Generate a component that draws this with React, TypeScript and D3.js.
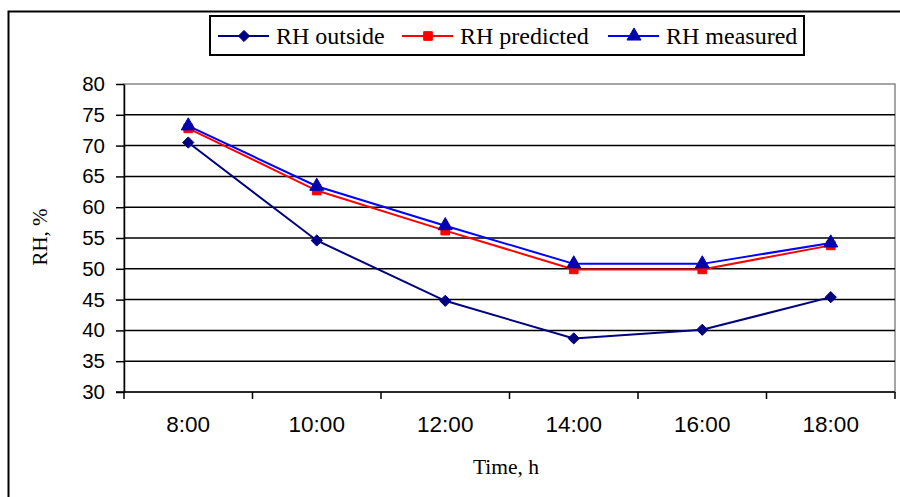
import { useRef, useEffect } from 'react';
import * as d3 from 'd3';

const times = ['8:00', '10:00', '12:00', '14:00', '16:00', '18:00'];
const rhOutside = [70.5, 54.6, 44.8, 38.7, 40.1, 45.4];
const rhPredicted = [72.8, 62.7, 56.2, 49.9, 49.9, 53.8];
const rhMeasured = [73.2, 63.4, 57.0, 50.8, 50.8, 54.2];
const yTicks = [30, 35, 40, 45, 50, 55, 60, 65, 70, 75, 80];

const seriesList = [
  { name: 'RH outside', values: rhOutside, line: '#000080', fill: '#000080', marker: 'diamond' },
  { name: 'RH predicted', values: rhPredicted, line: '#FF0000', fill: '#FF0000', marker: 'square' },
  { name: 'RH measured', values: rhMeasured, line: '#0000FF', fill: '#0000B0', marker: 'triangle' },
];

const W = 900;
const H = 497;

function markerPath(type: string) {
  if (type === 'diamond') return d3.symbol(d3.symbolDiamond2, 80)();
  if (type === 'square') return d3.symbol(d3.symbolSquare, 75)();
  return d3.symbol(d3.symbolTriangle, 85)();
}

export default function App() {
  const svgRef = useRef<SVGSVGElement>(null);

  useEffect(() => {
    if (!svgRef.current) return;
    const svg = d3.select(svgRef.current);
    svg.selectAll('*').remove();

    const left = 124;
    const right = 895;
    const top = 84;
    const bottom = 392;

    // outer frame
    svg.append('path')
      .attr('d', `M8.5,${H + 2} L8.5,11.5 L${W + 2},11.5`)
      .attr('fill', 'none')
      .attr('stroke', '#000')
      .attr('stroke-width', 2);

    const x = d3.scaleBand().domain(times).range([left, right]);
    const y = d3.scaleLinear().domain([30, 80]).range([bottom, top]);

    // plot border (gray)
    svg.append('rect')
      .attr('x', left)
      .attr('y', top)
      .attr('width', right - left)
      .attr('height', bottom - top)
      .attr('fill', 'none')
      .attr('stroke', '#888')
      .attr('stroke-width', 1.5);

    // grid lines
    svg.append('g')
      .selectAll('line')
      .data(yTicks.filter((t) => t > 30 && t < 80))
      .join('line')
      .attr('x1', left)
      .attr('x2', right)
      .attr('y1', (d) => y(d))
      .attr('y2', (d) => y(d))
      .attr('stroke', '#000')
      .attr('stroke-width', 1.5);

    // y axis
    const yAxis = svg.append('g')
      .attr('transform', `translate(${left},0)`)
      .call(d3.axisLeft(y).tickValues(yTicks).tickSize(8).tickSizeOuter(0).tickPadding(11));
    yAxis.select('.domain').attr('stroke', '#000').attr('stroke-width', 1.5);
    yAxis.selectAll('line').attr('stroke', '#000').attr('stroke-width', 1.5);
    yAxis.selectAll('text')
      .attr('font-family', 'Liberation Sans, Arial, sans-serif')
      .attr('font-size', 20.5)
      .attr('fill', '#000');

    // x axis
    const xAxis = svg.append('g').attr('transform', `translate(0,${bottom})`);
    xAxis.append('line')
      .attr('x1', left - 8)
      .attr('x2', right)
      .attr('stroke', '#000')
      .attr('stroke-width', 1.5);
    const bounds = [left, ...times.map((t) => (x(t) || 0) + x.bandwidth())];
    xAxis.selectAll('.tk')
      .data(bounds)
      .join('line')
      .attr('class', 'tk')
      .attr('x1', (d) => d)
      .attr('x2', (d) => d)
      .attr('y1', 0)
      .attr('y2', 7)
      .attr('stroke', '#000')
      .attr('stroke-width', 1.5);
    xAxis.selectAll('.lbl')
      .data(times)
      .join('text')
      .attr('class', 'lbl')
      .attr('x', (d) => (x(d) || 0) + x.bandwidth() / 2)
      .attr('y', 40)
      .attr('text-anchor', 'middle')
      .attr('font-family', 'Liberation Sans, Arial, sans-serif')
      .attr('font-size', 22.5)
      .attr('fill', '#000')
      .text((d) => d);

    // axis titles
    svg.append('text')
      .attr('x', 506)
      .attr('y', 474)
      .attr('text-anchor', 'middle')
      .attr('font-family', 'Liberation Serif, Times New Roman, serif')
      .attr('font-size', 21.5)
      .text('Time, h');
    svg.append('text')
      .attr('transform', `translate(47,237) rotate(-90)`)
      .attr('text-anchor', 'middle')
      .attr('font-family', 'Liberation Serif, Times New Roman, serif')
      .attr('font-size', 21)
      .text('RH, %');

    const cx = (t: string) => (x(t) || 0) + x.bandwidth() / 2;

    // series
    seriesList.forEach((s) => {
      const line = d3.line<number>()
        .x((_, i) => cx(times[i]))
        .y((d) => y(d));
      svg.append('path')
        .datum(s.values)
        .attr('d', line)
        .attr('fill', 'none')
        .attr('stroke', s.line)
        .attr('stroke-width', 2);
      svg.append('g')
        .selectAll('path')
        .data(s.values)
        .join('path')
        .attr('d', markerPath(s.marker))
        .attr('transform', (d, i) => `translate(${cx(times[i])},${y(d)})`)
        .attr('fill', s.fill)
        .attr('stroke', s.fill)
        .attr('stroke-width', 1);
    });

    // legend
    const lg = svg.append('g');
    lg.append('rect')
      .attr('x', 210)
      .attr('y', 16)
      .attr('width', 594)
      .attr('height', 39)
      .attr('fill', '#fff')
      .attr('stroke', '#000')
      .attr('stroke-width', 2);
    const legendX = [218, 402, 608];
    seriesList.forEach((s, i) => {
      const g = lg.append('g').attr('transform', `translate(${legendX[i]},36)`);
      g.append('line')
        .attr('x1', 0)
        .attr('x2', 51)
        .attr('stroke', s.line)
        .attr('stroke-width', 2);
      g.append('path')
        .attr('d', markerPath(s.marker))
        .attr('transform', 'translate(26,0)')
        .attr('fill', s.fill)
        .attr('stroke', s.fill);
      g.append('text')
        .attr('x', 58)
        .attr('y', 8)
        .attr('font-family', 'Liberation Serif, Times New Roman, serif')
        .attr('font-size', 24)
        .attr('fill', '#000')
        .text(s.name);
    });
  }, []);

  return (
    <svg
      ref={svgRef}
      width={W}
      height={H}
      style={{ position: 'absolute', left: 0, top: 0, background: '#fff' }}
    />
  );
}
